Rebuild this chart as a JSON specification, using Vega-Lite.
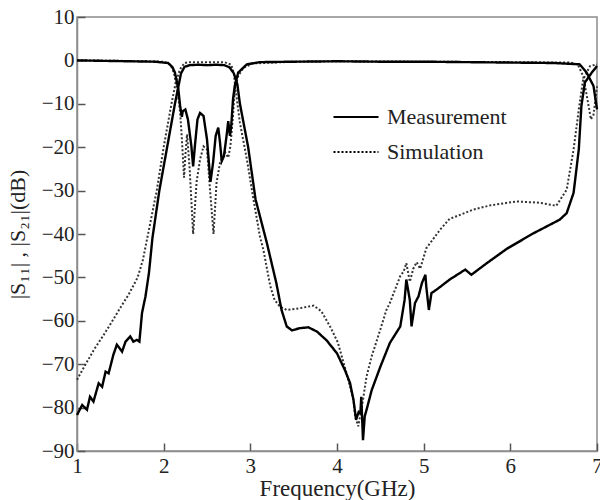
{
  "$schema": "https://vega.github.io/schema/vega-lite/v6.json",
  "autosize": {"type": "none"},
  "padding": {"left": 77, "top": 17, "right": 3, "bottom": 49},
  "width": 520,
  "height": 434,
  "background": "white",
  "view": {"stroke": "#8c8c8c", "strokeWidth": 1.5},
  "config": {
    "font": "Liberation Serif",
    "axis": {
      "labelFont": "Liberation Serif", "labelFontSize": 21, "labelColor": "#222",
      "titleFont": "Liberation Serif", "titleFontWeight": "normal", "titleColor": "#222",
      "domainColor": "#8c8c8c", "domainWidth": 1.5, "tickColor": "#555", "tickWidth": 1.5,
      "grid": false
    },
    "legend": {
      "labelFont": "Liberation Serif", "labelFontSize": 22, "labelColor": "#222"
    }
  },
  "datasets": {
    "m21": [{"f":1.00,"db":-81.7},{"f":1.06,"db":-79.4},{"f":1.115,"db":-80.5},{"f":1.15,"db":-77.5},{"f":1.19,"db":-78.6},{"f":1.25,"db":-74.4},{"f":1.29,"db":-75.2},{"f":1.33,"db":-71.7},{"f":1.365,"db":-72.1},{"f":1.42,"db":-67.8},{"f":1.46,"db":-65.5},{"f":1.52,"db":-67.1},{"f":1.56,"db":-64.8},{"f":1.615,"db":-63.6},{"f":1.65,"db":-64.8},{"f":1.69,"db":-64.4},{"f":1.72,"db":-64.8},{"f":1.75,"db":-58.2},{"f":1.79,"db":-54.4},{"f":1.83,"db":-49},{"f":1.87,"db":-41},{"f":1.95,"db":-30},{"f":2.04,"db":-20},{"f":2.13,"db":-10},{"f":2.17,"db":-6},{"f":2.2,"db":-3},{"f":2.24,"db":-1.5},{"f":2.3,"db":-1.1},{"f":2.4,"db":-1.0},{"f":2.5,"db":-1.1},{"f":2.6,"db":-1.0},{"f":2.7,"db":-1.1},{"f":2.76,"db":-1.6},{"f":2.81,"db":-3},{"f":2.85,"db":-5.5},{"f":2.88,"db":-10},{"f":2.975,"db":-20},{"f":3.06,"db":-32},{"f":3.19,"db":-42},{"f":3.3,"db":-51.3},{"f":3.36,"db":-57.5},{"f":3.42,"db":-61.3},{"f":3.48,"db":-62.2},{"f":3.57,"db":-61.7},{"f":3.67,"db":-61.5},{"f":3.77,"db":-62.5},{"f":3.88,"db":-64.5},{"f":4.0,"db":-67.5},{"f":4.09,"db":-71.3},{"f":4.15,"db":-74.3},{"f":4.19,"db":-78.2},{"f":4.22,"db":-82.8},{"f":4.25,"db":-81},{"f":4.27,"db":-81.3},{"f":4.28,"db":-77.5},{"f":4.3,"db":-87.5},{"f":4.32,"db":-82},{"f":4.34,"db":-80.6},{"f":4.4,"db":-76},{"f":4.5,"db":-70.6},{"f":4.61,"db":-65.1},{"f":4.73,"db":-61.3},{"f":4.78,"db":-55.2},{"f":4.8,"db":-50.5},{"f":4.84,"db":-55.2},{"f":4.86,"db":-61.3},{"f":4.9,"db":-55.9},{"f":4.94,"db":-54.4},{"f":4.98,"db":-51.3},{"f":5.02,"db":-49.4},{"f":5.03,"db":-52.1},{"f":5.06,"db":-57.5},{"f":5.09,"db":-53.6},{"f":5.15,"db":-52.8},{"f":5.3,"db":-50.5},{"f":5.48,"db":-48.2},{"f":5.55,"db":-49.4},{"f":5.73,"db":-46.7},{"f":5.96,"db":-43.4},{"f":6.27,"db":-39.8},{"f":6.57,"db":-36.7},{"f":6.65,"db":-35.2},{"f":6.73,"db":-30.5},{"f":6.79,"db":-20.5},{"f":6.82,"db":-10.5},{"f":6.86,"db":-5.1},{"f":6.94,"db":-2.8},{"f":7.0,"db":-1.3}],
    "s21": [{"f":1.0,"db":-73.6},{"f":1.1,"db":-70},{"f":1.2,"db":-66.5},{"f":1.3,"db":-63.5},{"f":1.4,"db":-60.3},{"f":1.5,"db":-57},{"f":1.6,"db":-53.8},{"f":1.7,"db":-50},{"f":1.76,"db":-46},{"f":1.82,"db":-40},{"f":1.92,"db":-30},{"f":2.0,"db":-20},{"f":2.09,"db":-10},{"f":2.14,"db":-5},{"f":2.19,"db":-2},{"f":2.24,"db":-0.6},{"f":2.3,"db":-0.4},{"f":2.5,"db":-0.4},{"f":2.7,"db":-0.4},{"f":2.78,"db":-1},{"f":2.81,"db":-3},{"f":2.83,"db":-6.7},{"f":2.88,"db":-14.4},{"f":2.96,"db":-22.8},{"f":3.03,"db":-31.3},{"f":3.11,"db":-40.5},{"f":3.15,"db":-43.6},{"f":3.23,"db":-52},{"f":3.28,"db":-55.2},{"f":3.34,"db":-56.7},{"f":3.42,"db":-57.5},{"f":3.57,"db":-57.1},{"f":3.73,"db":-56.5},{"f":3.82,"db":-57.8},{"f":3.92,"db":-61.3},{"f":4.01,"db":-65},{"f":4.11,"db":-72.1},{"f":4.19,"db":-78.2},{"f":4.21,"db":-82},{"f":4.245,"db":-84.3},{"f":4.3,"db":-78.2},{"f":4.34,"db":-72.9},{"f":4.4,"db":-68.2},{"f":4.5,"db":-62},{"f":4.57,"db":-57.5},{"f":4.61,"db":-55.9},{"f":4.73,"db":-49.7},{"f":4.77,"db":-48.6},{"f":4.8,"db":-46.7},{"f":4.84,"db":-51},{"f":4.88,"db":-48},{"f":4.92,"db":-46.5},{"f":4.96,"db":-48},{"f":5.03,"db":-43.3},{"f":5.19,"db":-39},{"f":5.3,"db":-36.5},{"f":5.38,"db":-35.9},{"f":5.57,"db":-34.4},{"f":5.77,"db":-33.4},{"f":6.07,"db":-32.5},{"f":6.34,"db":-32.8},{"f":6.53,"db":-33.5},{"f":6.65,"db":-29.8},{"f":6.73,"db":-20.5},{"f":6.79,"db":-11.3},{"f":6.84,"db":-4.4},{"f":6.92,"db":-1.3},{"f":7.0,"db":-0.9}],
    "m11": [{"f":1.0,"db":0},{"f":1.3,"db":-0.1},{"f":1.6,"db":-0.2},{"f":1.9,"db":-0.3},{"f":2.05,"db":-0.6},{"f":2.1,"db":-1.5},{"f":2.13,"db":-2.8},{"f":2.17,"db":-6.7},{"f":2.19,"db":-10.5},{"f":2.21,"db":-13},{"f":2.22,"db":-11.7},{"f":2.25,"db":-11.3},{"f":2.28,"db":-13.6},{"f":2.32,"db":-19.8},{"f":2.34,"db":-24.4},{"f":2.36,"db":-19.8},{"f":2.39,"db":-13.6},{"f":2.42,"db":-12.1},{"f":2.46,"db":-12.8},{"f":2.5,"db":-18.2},{"f":2.54,"db":-28},{"f":2.57,"db":-23.6},{"f":2.6,"db":-17.4},{"f":2.63,"db":-15.5},{"f":2.65,"db":-18.9},{"f":2.67,"db":-23.2},{"f":2.695,"db":-22.1},{"f":2.73,"db":-16.7},{"f":2.745,"db":-14},{"f":2.765,"db":-17.4},{"f":2.78,"db":-15},{"f":2.8,"db":-9},{"f":2.82,"db":-5.9},{"f":2.86,"db":-2.8},{"f":2.96,"db":-0.9},{"f":3.11,"db":-0.4},{"f":3.5,"db":-0.3},{"f":4.0,"db":-0.2},{"f":4.5,"db":-0.3},{"f":5.0,"db":-0.3},{"f":5.5,"db":-0.4},{"f":6.0,"db":-0.5},{"f":6.5,"db":-0.6},{"f":6.8,"db":-0.9},{"f":6.88,"db":-2.8},{"f":6.96,"db":-5.9},{"f":7.0,"db":-11.3}],
    "s11": [{"f":1.0,"db":0},{"f":1.5,"db":-0.1},{"f":2.0,"db":-0.3},{"f":2.08,"db":-1},{"f":2.12,"db":-3},{"f":2.16,"db":-7},{"f":2.19,"db":-12},{"f":2.21,"db":-18},{"f":2.235,"db":-27},{"f":2.25,"db":-22},{"f":2.27,"db":-17},{"f":2.3,"db":-25},{"f":2.34,"db":-40},{"f":2.38,"db":-28},{"f":2.42,"db":-22.8},{"f":2.46,"db":-19.8},{"f":2.5,"db":-20.5},{"f":2.535,"db":-29.8},{"f":2.575,"db":-40},{"f":2.61,"db":-28.2},{"f":2.65,"db":-23.6},{"f":2.71,"db":-21.2},{"f":2.745,"db":-22.4},{"f":2.77,"db":-19.8},{"f":2.8,"db":-12.8},{"f":2.82,"db":-6.7},{"f":2.86,"db":-3.6},{"f":2.92,"db":-1.7},{"f":3.03,"db":-0.7},{"f":3.5,"db":-0.3},{"f":4.0,"db":-0.2},{"f":5.0,"db":-0.3},{"f":6.0,"db":-0.4},{"f":6.7,"db":-0.5},{"f":6.78,"db":-1},{"f":6.84,"db":-3.6},{"f":6.89,"db":-9},{"f":6.93,"db":-13.6},{"f":6.96,"db":-12.5},{"f":7.0,"db":-6}]
  },
  "encoding": {
    "x": {"field": "f", "type": "quantitative",
      "scale": {"domain": [1, 7], "nice": false},
      "axis": {"values": [1, 2, 3, 4, 5, 6, 7], "title": "Frequency(GHz)", "titleFontSize": 23, "ticks": true, "tickSize": -8, "labelPadding": 12, "titlePadding": 1, "labelFlush": false}},
    "y": {"field": "db", "type": "quantitative",
      "scale": {"domain": [-90, 10], "nice": false},
      "axis": {"values": [-90, -80, -70, -60, -50, -40, -30, -20, -10, 0, 10], "title": "|S₁₁| , |S₂₁|(dB)", "titleFontSize": 22, "ticks": true, "tickSize": -8, "labelPadding": 11, "titlePadding": 12}},
    "strokeDash": {"scale": {"domain": ["Measurement", "Simulation"], "range": [[1, 0], [2, 2]]},
      "legend": {"title": null, "orient": "none", "legendX": 255, "legendY": 76, "symbolType": "stroke", "symbolSize": 2025, "symbolStrokeWidth": 2.2, "symbolStrokeColor": "black", "rowPadding": -10, "labelOffset": 7, "padding": 0}}
  },
  "layer": [
    {"data": {"name": "s21"}, "mark": {"type": "line", "color": "#333", "strokeWidth": 2}, "encoding": {"strokeDash": {"datum": "Simulation"}}},
    {"data": {"name": "s11"}, "mark": {"type": "line", "color": "#333", "strokeWidth": 2}, "encoding": {"strokeDash": {"datum": "Simulation"}}},
    {"data": {"name": "m21"}, "mark": {"type": "line", "color": "black", "strokeWidth": 2.4}, "encoding": {"strokeDash": {"datum": "Measurement"}}},
    {"data": {"name": "m11"}, "mark": {"type": "line", "color": "black", "strokeWidth": 2.4}, "encoding": {"strokeDash": {"datum": "Measurement"}}}
  ]
}
